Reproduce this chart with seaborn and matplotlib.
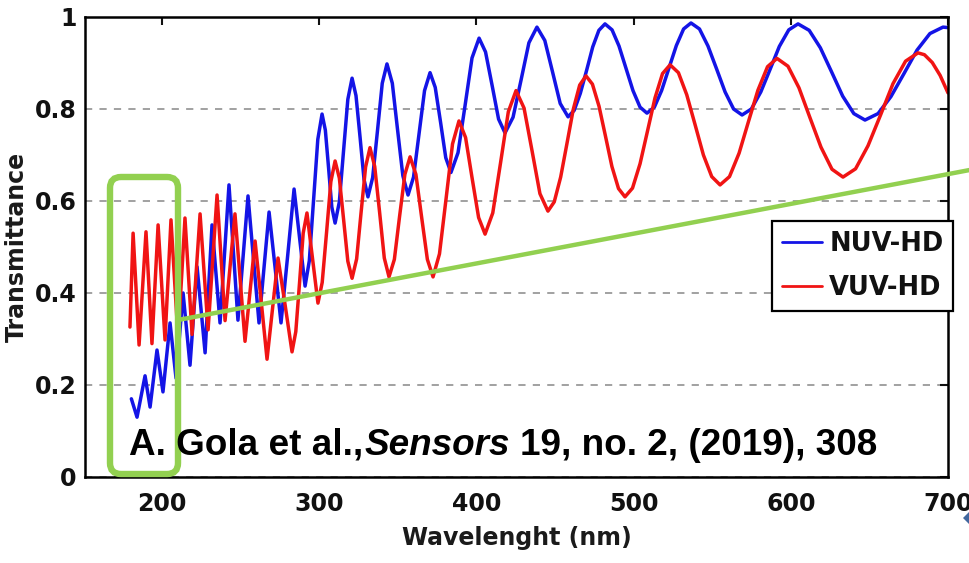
import matplotlib
matplotlib.use("Agg")
import matplotlib.pyplot as plt
from matplotlib.lines import Line2D
from matplotlib.patches import FancyBboxPatch, Polygon
import seaborn as sns
import pandas as pd

# ---------------- data ----------------
series_names = ["NUV-HD", "VUV-HD"]
series_colors = ["#1414E6", "#F01414"]

blue_wl = [180.5, 184.1, 189.2, 192.4, 196.8, 200.6, 205.1, 208.9, 213.4, 217.8, 222.3, 227.4, 231.8, 236.9, 242.6, 248.3, 254.7,
           258.2, 261.7, 264.9, 268.1, 271.9, 275.7, 279.9, 284.0, 287.5, 291.0,
           293.7, 296.4, 299.1, 301.8, 303.9, 306.0, 308.0, 310.1, 312.8, 315.5, 318.2, 320.9, 323.4, 326.0, 328.5, 331.0,
           334.0, 337.1, 340.1, 343.1, 346.5, 349.8, 353.2, 356.5, 360.0, 363.5, 367.0, 370.5, 373.8, 377.2, 380.5, 383.8,
           388.3, 392.8, 397.2, 401.7, 405.8, 410.0, 414.1, 418.2, 423.3, 428.4, 433.4, 438.5, 443.5, 448.4, 453.3, 458.3,
           462.2, 466.1, 470.1, 474.0, 477.9, 481.8, 486.3, 490.7, 495.2, 499.6, 504.1, 508.5, 513.2, 517.8, 522.5, 527.2,
           531.8, 536.5, 541.9, 547.3, 552.8, 558.2, 563.6, 569.0, 574.9, 580.9, 586.8, 592.7, 598.7, 604.6, 611.7, 618.8,
           625.9, 633.0, 640.1, 647.2, 655.5, 663.7, 672.0, 680.3, 688.5, 696.8, 700.0]
blue_t = [0.17, 0.13, 0.22, 0.152, 0.276, 0.185, 0.335, 0.215, 0.40, 0.243, 0.457, 0.27, 0.548, 0.335, 0.635, 0.341, 0.611,
          0.473, 0.335, 0.456, 0.576, 0.456, 0.335, 0.48, 0.626, 0.52, 0.415,
          0.470, 0.602, 0.734, 0.789, 0.754, 0.670, 0.587, 0.552, 0.598, 0.710, 0.821, 0.867, 0.829, 0.738, 0.647, 0.609,
          0.651, 0.754, 0.856, 0.898, 0.856, 0.756, 0.655, 0.613, 0.652, 0.746, 0.840, 0.879, 0.847, 0.771, 0.694, 0.662,
          0.705, 0.808, 0.911, 0.954, 0.924, 0.851, 0.778, 0.748, 0.782, 0.863, 0.944, 0.978, 0.949, 0.881, 0.812, 0.783,
          0.797, 0.834, 0.884, 0.935, 0.971, 0.985, 0.972, 0.937, 0.888, 0.840, 0.804, 0.791, 0.804, 0.840, 0.889, 0.938,
          0.974, 0.987, 0.974, 0.937, 0.887, 0.837, 0.800, 0.787, 0.800, 0.837, 0.886, 0.936, 0.972, 0.985, 0.971, 0.933,
          0.881, 0.828, 0.790, 0.776, 0.790, 0.827, 0.877, 0.928, 0.964, 0.978, 0.977]

red_wl = [179.6, 181.6, 185.4, 189.8, 193.6, 197.5, 201.9, 205.7, 210.2, 214.6, 219.1, 224.2, 229.3, 235.0, 240.1, 246.4,
          249.6, 252.8, 256.0, 259.2, 263.0, 266.8, 270.3, 273.8, 278.3, 282.7,
          285.1, 287.5, 289.8, 292.2, 295.7, 299.2,
          301.9, 304.7, 307.4, 310.1, 312.8, 315.5, 318.2, 320.9, 323.8, 326.6, 329.5, 332.3, 335.3, 338.4, 341.4, 344.4,
          347.8, 351.1, 354.5, 357.8, 361.5, 365.1, 368.8, 372.4, 376.5, 380.7, 384.8, 388.9, 393.1, 397.2, 401.4, 405.5,
          410.4, 415.4, 420.3, 425.2, 430.3, 435.4, 440.4, 445.5,
          449.5, 453.6, 457.6, 461.6, 465.7, 469.7, 473.8, 478.0, 482.1, 486.2, 490.4, 494.5, 499.3, 504.1, 508.9, 513.6,
          518.4, 523.2, 528.5, 533.8, 539.1, 544.4, 549.7, 555.0, 561.0, 567.1, 573.1, 579.1, 585.2, 591.2, 598.2, 605.2,
          612.2, 619.2, 626.2, 633.2, 641.2, 649.1, 657.1, 665.0, 673.0, 680.9,
          685.0, 690.0, 695.0, 700.0]
red_t = [0.326, 0.53, 0.287, 0.533, 0.29, 0.548, 0.298, 0.559, 0.30, 0.563, 0.31, 0.572, 0.32, 0.613, 0.34, 0.572,
         0.434, 0.295, 0.404, 0.513, 0.385, 0.256, 0.366, 0.476, 0.374, 0.272,
         0.316, 0.423, 0.530, 0.574, 0.476, 0.378,
         0.423, 0.533, 0.642, 0.687, 0.650, 0.560, 0.469, 0.432, 0.474, 0.574, 0.674, 0.716, 0.675, 0.576, 0.476, 0.435,
         0.473, 0.566, 0.658, 0.696, 0.658, 0.566, 0.473, 0.435, 0.485, 0.605, 0.724, 0.774, 0.738, 0.651, 0.564, 0.528,
         0.574, 0.684, 0.794, 0.84, 0.802, 0.709, 0.616, 0.578,
         0.598, 0.652, 0.725, 0.799, 0.852, 0.872, 0.854, 0.806, 0.741, 0.675, 0.627, 0.609, 0.628, 0.681, 0.753, 0.824,
         0.877, 0.896, 0.879, 0.831, 0.766, 0.700, 0.653, 0.635, 0.653, 0.704, 0.773, 0.841, 0.892, 0.91, 0.893, 0.846,
         0.781, 0.717, 0.669, 0.652, 0.670, 0.720, 0.787, 0.855, 0.904, 0.922,
         0.918, 0.901, 0.873, 0.835]

x_ticks = [200, 300, 400, 500, 600, 700]
y_ticks = [0, 0.2, 0.4, 0.6, 0.8, 1]
y_tick_labels = ["0", "0.2", "0.4", "0.6", "0.8", "1"]
x_label = "Wavelenght (nm)"
y_label = "Transmittance"
citation_parts = ["A. Gola et al.,", "Sensors", "19, no. 2, (2019), 308"]

# ---------------- figure ----------------
sns.set_theme(style="white")
plt.rcParams["font.family"] = ["DejaVu Sans"]
plt.rcParams["font.weight"] = "bold"
plt.rcParams["axes.labelweight"] = "bold"

df = pd.concat([
    pd.DataFrame({"wl": blue_wl, "T": blue_t, "series": series_names[0]}),
    pd.DataFrame({"wl": red_wl, "T": red_t, "series": series_names[1]}),
], ignore_index=True)

W, H = 970, 563
fig = plt.figure(figsize=(W / 100, H / 100), dpi=100)
fig.patch.set_facecolor("white")
ax = fig.add_axes([85 / W, (H - 477) / H, 863 / W, 460 / H])

sns.lineplot(data=df, x="wl", y="T", hue="series", hue_order=series_names,
             palette=dict(zip(series_names, series_colors)), estimator=None,
             sort=False, linewidth=2.5, legend=False, ax=ax)

ax.set_xlim(151, 700)
ax.set_ylim(0, 1)
ax.set_xticks(x_ticks)
ax.set_xticklabels([str(v) for v in x_ticks])
ax.set_yticks(y_ticks)
ax.set_yticklabels(y_tick_labels)
ax.tick_params(direction="in", length=6, width=1.5, top=True, right=True,
               labelsize=17, colors="#111111")
ax.tick_params(axis="x", pad=11)
ax.tick_params(axis="y", pad=6)
ax.yaxis.grid(True, linestyle=(0, (4, 4)), color="#9a9a9a", linewidth=1.3)
ax.xaxis.grid(False)
ax.set_axisbelow(True)
for sp in ax.spines.values():
    sp.set_visible(True)
    sp.set_color("black")
    sp.set_linewidth(1.8)
ax.set_xlabel(x_label, fontsize=17, color="#1a1a1a", labelpad=7)
ax.set_ylabel(y_label, fontsize=17, color="#1a1a1a", labelpad=4)

handles = [Line2D([0], [0], color=c, lw=2) for c in series_colors]
leg = ax.legend(handles, series_names, loc="upper left", bbox_to_anchor=(0.796, 0.5565),
                borderaxespad=0, frameon=True, fancybox=False, framealpha=1,
                edgecolor="black", fontsize=18.5, handlelength=1.55, handletextpad=0.3,
                borderpad=0.38, labelspacing=0.7)
leg.get_frame().set_linewidth(1.6)
for t in leg.get_texts():
    t.set_fontweight("bold")
    t.set_color("#111111")

# ---------------- slide overlay (pixel coordinates) ----------------
ov = fig.add_axes([0, 0, 1, 1], facecolor="none")
ov.set_xlim(0, W)
ov.set_ylim(H, 0)
ov.axis("off")
green = "#92D050"
ov.add_patch(FancyBboxPatch((110, 177), 68, 297, boxstyle="round,pad=0,rounding_size=11",
                            fill=False, edgecolor=green, linewidth=4.6, zorder=5))
ov.plot([178, 975], [320, 169], color=green, linewidth=3.2, solid_capstyle="butt", zorder=5)
ov.add_patch(Polygon([(963, 518), (976, 505), (976, 531)], closed=True,
                     facecolor="#41679E", edgecolor="none", zorder=5))

fig.canvas.draw()
renderer = fig.canvas.get_renderer()
inv = ov.transData.inverted()
x0 = 129
styles = ["normal", "italic", "normal"]
gaps = [1, 10, 0]
for part, st, g in zip(citation_parts, styles, gaps):
    t = ov.text(x0, 455, part, fontsize=26.6, fontweight="bold", fontstyle=st,
                family=["Liberation Sans", "DejaVu Sans"], color="black",
                va="baseline", ha="left", zorder=6)
    bb = t.get_window_extent(renderer)
    x0 = inv.transform((bb.x1, bb.y0))[0] + g

fig.savefig("out.png", dpi=100)
